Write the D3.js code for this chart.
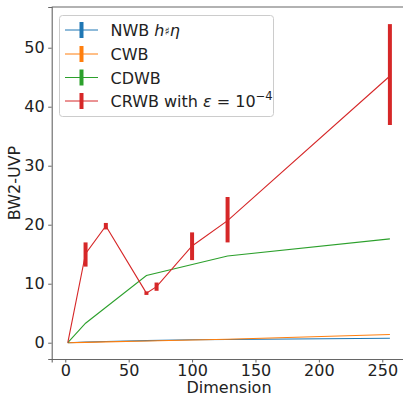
<!DOCTYPE html>
<html>
<head>
<meta charset="utf-8">
<script src="https://cdn.jsdelivr.net/npm/d3@7"></script>
<style>
  body { margin: 0; background: #fff; }
  svg { display: block; font-family: "DejaVu Sans", sans-serif; }
</style>
</head>
<body>
<svg id="chart" width="403" height="396"></svg>
<script>
// values
var nwbDims = [2, 16, 32, 64, 100, 128, 256];
var nwbVals = [0, 0.1, 0.2, 0.35, 0.5, 0.55, 0.75];

var cwbDims = [2, 16, 32, 64, 100, 128, 256];
var cwbVals = [0, 0.05, 0.15, 0.3, 0.45, 0.6, 1.4];

var cdwbDims = [2, 16, 64, 128, 256];
var cdwbVals = [0, 3.3, 11.4, 14.7, 17.6];

var crwbDims = [2, 16, 32, 64, 72, 100, 128, 256];
var crwbVals = [0, 15.1, 19.8, 8.4, 9.5, 16.4, 20.7, 45.2];
var crwbLow  = [0, 12.9, 19.2, 8.1, 8.8, 14.0, 17.0, 36.9];
var crwbHigh = [0, 17.0, 20.3, 8.7, 10.2, 18.7, 24.7, 54.0];

var xTicks = [0, 50, 100, 150, 200, 250];
var yTicks = [0, 10, 20, 30, 40, 50];

var svg = d3.select("#chart");

var x = d3.scaleLinear().domain([-10.7, 268.7]).range([51.7, 406]);
var y = d3.scaleLinear().domain([-2.76, 56.9]).range([359, 7]);

// axes
var xAxis = svg.append("g")
  .attr("transform", "translate(0,359)")
  .call(d3.axisBottom(x).tickValues(xTicks).tickSizeOuter(0).tickSize(3.5).tickPadding(2));
var yAxis = svg.append("g")
  .attr("transform", "translate(51.7,0)")
  .call(d3.axisLeft(y).tickValues(yTicks).tickSizeOuter(0).tickSize(3.5).tickPadding(3.5));

[xAxis, yAxis].forEach(function(g) {
  g.select(".domain").attr("stroke", "#666").attr("stroke-width", 1.1)
  g.selectAll(".tick line").attr("stroke", "#666")
  g.selectAll(".tick text")
    .attr("fill", "#222")
    .style("font-family", "DejaVu Sans")
    .style("font-size", "16px")
})

// top spine
svg.append("line")
  .attr("x1", 51.7).attr("x2", 406)
  .attr("y1", 7).attr("y2", 7)
  .attr("stroke", "#666").attr("stroke-width", 1.1)

svg.append("text")
  .attr("x", 229).attr("y", 393)
  .attr("text-anchor", "middle")
  .style("font-size", "16px")
  .attr("fill", "#222")
  .text("Dimension")

svg.append("text")
  .attr("transform", "translate(20,183) rotate(-90)")
  .attr("text-anchor", "middle")
  .style("font-size", "16px")
  .attr("fill", "#222")
  .text("BW2-UVP")

var line = d3.line()
  .x(function(d) { return x(d[0]) })
  .y(function(d) { return y(d[1]) })

function series(dims, vals, color) {
  svg.append("path")
    .datum(d3.zip(dims, vals))
    .attr("fill", "none")
    .attr("stroke", color)
    .attr("stroke-width", 1.1)
    .attr("d", line)
}

series(nwbDims, nwbVals, "#1f77b4")
series(cwbDims, cwbVals, "#ff7f0e")
series(cdwbDims, cdwbVals, "#2ca02c")
series(crwbDims, crwbVals, "#d62728")

// red error bars
svg.append("g").selectAll("line")
  .data(d3.zip(crwbDims, crwbLow, crwbHigh))
  .join("line")
  .attr("x1", function(d) { return x(d[0]) })
  .attr("x2", function(d) { return x(d[0]) })
  .attr("y1", function(d) { return y(d[1]) })
  .attr("y2", function(d) { return y(d[2]) })
  .attr("stroke", "#d62728")
  .attr("stroke-width", 4)

// legend
var legend = svg.append("g")
legend.append("rect")
  .attr("x", 59.5).attr("y", 15.5)
  .attr("width", 214).attr("height", 101)
  .attr("rx", 3)
  .attr("fill", "#fff").attr("fill-opacity", 0.8)
  .attr("stroke", "#ccc")

var legendColors = ["#1f77b4", "#ff7f0e", "#2ca02c", "#d62728"];
var legendRows = [30, 54, 77.5, 101];

legendRows.forEach(function(ly, i) {
  legend.append("line")
    .attr("x1", 65).attr("x2", 98)
    .attr("y1", ly).attr("y2", ly)
    .attr("stroke", legendColors[i]).attr("stroke-width", 1)
  legend.append("line")
    .attr("x1", 81.5).attr("x2", 81.5)
    .attr("y1", ly - 8).attr("y2", ly + 8)
    .attr("stroke", legendColors[i]).attr("stroke-width", 4)
})

function legendText(ly) {
  return legend.append("text")
    .attr("x", 110.5).attr("y", ly + 6)
    .style("font-size", "16px")
    .attr("fill", "#222")
}

var t0 = legendText(legendRows[0])
t0.append("tspan").text("NWB ")
t0.append("tspan").style("font-style", "italic").text("h")
t0.append("tspan").style("font-size", "11px").attr("dy", -1).text("♯")
t0.append("tspan").style("font-style", "italic").attr("dy", 1).text("η")

legendText(legendRows[1]).text("CWB")
legendText(legendRows[2]).text("CDWB")

var t3 = legendText(legendRows[3])
t3.append("tspan").text("CRWB with ")
t3.append("tspan").style("font-style", "italic").text("ε")
t3.append("tspan").text(" = 10")
t3.append("tspan").style("font-size", "11.5px").attr("dy", -7).text("−4")
</script>
</body>
</html>
